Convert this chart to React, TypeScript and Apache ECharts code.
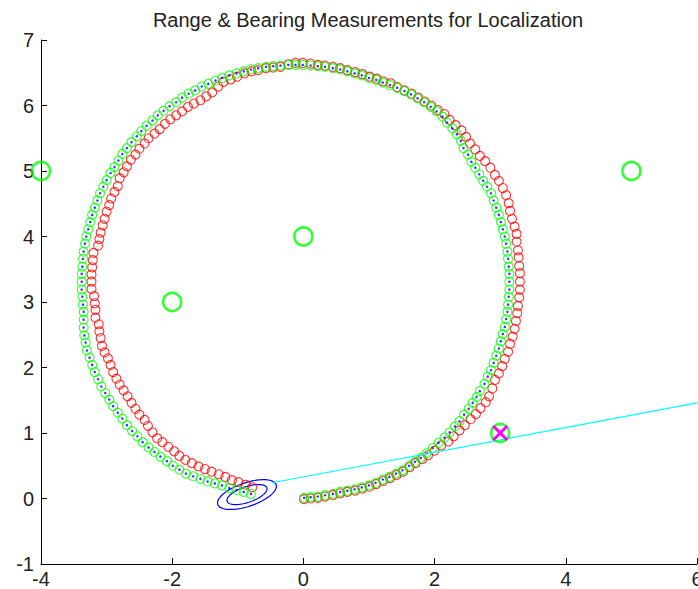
import React, { useEffect, useRef } from "react";
import * as echarts from "echarts";

// Landmark positions
const landmarkX = [-4, -2, 0, 5, 3];
const landmarkY = [5, 3, 4, 5, 1];

// Landmark currently observed
const observedLandmark: [number, number] = [3, 1];

// True robot trajectory (red)
const truePath: [number, number][] = [
  [0.01, -0.01], [0.11, 0.0], [0.22, 0.01], [0.33, 0.03], [0.45, 0.05], [0.56, 0.08], [0.67, 0.1], [0.79, 0.12],
  [0.9, 0.15], [1.01, 0.18], [1.11, 0.22], [1.22, 0.27], [1.32, 0.31], [1.42, 0.36], [1.52, 0.41], [1.62, 0.48],
  [1.71, 0.54], [1.81, 0.6], [1.9, 0.66], [2.0, 0.73], [2.1, 0.81], [2.21, 0.87], [2.29, 0.95], [2.38, 1.04],
  [2.46, 1.12], [2.55, 1.21], [2.63, 1.29], [2.7, 1.38], [2.78, 1.47], [2.83, 1.56], [2.88, 1.68], [2.92, 1.81],
  [2.98, 1.91], [3.03, 2.02], [3.07, 2.13], [3.12, 2.24], [3.15, 2.36], [3.19, 2.47], [3.22, 2.59], [3.24, 2.71],
  [3.26, 2.83], [3.27, 2.94], [3.29, 3.07], [3.3, 3.19], [3.3, 3.31], [3.3, 3.44], [3.29, 3.55], [3.28, 3.68],
  [3.27, 3.79], [3.25, 3.92], [3.25, 4.04], [3.22, 4.15], [3.18, 4.27], [3.15, 4.39], [3.13, 4.51], [3.09, 4.63],
  [3.04, 4.74], [2.98, 4.85], [2.92, 4.94], [2.85, 5.05], [2.77, 5.15], [2.69, 5.23], [2.62, 5.33], [2.54, 5.42],
  [2.48, 5.52], [2.41, 5.62], [2.32, 5.7], [2.23, 5.78], [2.15, 5.87], [2.05, 5.93], [1.95, 6.0], [1.85, 6.06],
  [1.75, 6.12], [1.65, 6.18], [1.54, 6.23], [1.43, 6.28], [1.33, 6.34], [1.22, 6.37], [1.12, 6.41], [1.01, 6.44],
  [0.9, 6.48], [0.79, 6.51], [0.67, 6.54], [0.56, 6.57], [0.45, 6.59], [0.33, 6.61], [0.22, 6.62], [0.11, 6.64],
  [-0.01, 6.65], [-0.12, 6.65], [-0.23, 6.63], [-0.35, 6.59], [-0.46, 6.58], [-0.57, 6.57], [-0.69, 6.54], [-0.79, 6.52],
  [-0.9, 6.49], [-1.01, 6.44], [-1.11, 6.4], [-1.22, 6.36], [-1.3, 6.29], [-1.39, 6.2], [-1.48, 6.14], [-1.57, 6.08],
  [-1.67, 6.03], [-1.76, 5.98], [-1.85, 5.91], [-1.94, 5.85], [-2.03, 5.79], [-2.11, 5.72], [-2.19, 5.64], [-2.27, 5.57],
  [-2.36, 5.5], [-2.42, 5.42], [-2.5, 5.34], [-2.56, 5.25], [-2.63, 5.17], [-2.69, 5.07], [-2.74, 4.98], [-2.8, 4.89],
  [-2.83, 4.77], [-2.88, 4.68], [-2.93, 4.58], [-2.96, 4.48], [-3.0, 4.38], [-3.03, 4.27], [-3.06, 4.17], [-3.09, 4.06],
  [-3.11, 3.96], [-3.13, 3.86], [-3.2, 3.75], [-3.21, 3.64], [-3.22, 3.53], [-3.23, 3.42], [-3.23, 3.31], [-3.23, 3.2],
  [-3.19, 3.09], [-3.18, 2.98], [-3.17, 2.88], [-3.17, 2.76], [-3.12, 2.66], [-3.11, 2.55], [-3.09, 2.45], [-3.07, 2.33],
  [-3.03, 2.23], [-2.98, 2.14], [-2.94, 2.04], [-2.9, 1.93], [-2.85, 1.83], [-2.8, 1.74], [-2.74, 1.65], [-2.68, 1.56],
  [-2.62, 1.46], [-2.56, 1.37], [-2.5, 1.28], [-2.42, 1.2], [-2.37, 1.11], [-2.3, 1.01], [-2.23, 0.92], [-2.15, 0.86],
  [-2.06, 0.79], [-1.97, 0.72], [-1.89, 0.65], [-1.8, 0.59], [-1.7, 0.54], [-1.6, 0.49], [-1.5, 0.45], [-1.4, 0.41],
  [-1.29, 0.37], [-1.19, 0.33], [-1.09, 0.28], [-0.99, 0.25], [-0.88, 0.21], [-0.78, 0.17],
];

// Estimated robot trajectory (green circles, blue dots)
const estPath: [number, number][] = [
  [0.01, 0.01], [0.11, 0.02], [0.22, 0.03], [0.33, 0.05], [0.45, 0.07], [0.56, 0.1], [0.67, 0.12], [0.78, 0.14],
  [0.89, 0.17], [1.0, 0.2], [1.1, 0.24], [1.21, 0.29], [1.31, 0.33], [1.41, 0.38], [1.51, 0.43], [1.61, 0.5],
  [1.7, 0.56], [1.79, 0.62], [1.88, 0.69], [1.97, 0.77], [2.06, 0.85], [2.15, 0.93], [2.23, 1.01], [2.31, 1.1],
  [2.38, 1.18], [2.45, 1.28], [2.52, 1.37], [2.58, 1.46], [2.64, 1.55], [2.69, 1.64], [2.76, 1.75], [2.81, 1.86],
  [2.86, 1.96], [2.9, 2.07], [2.94, 2.18], [2.98, 2.29], [3.01, 2.4], [3.04, 2.51], [3.07, 2.62], [3.09, 2.74],
  [3.11, 2.85], [3.12, 2.96], [3.13, 3.08], [3.14, 3.19], [3.14, 3.31], [3.14, 3.43], [3.13, 3.54], [3.12, 3.66],
  [3.11, 3.77], [3.09, 3.89], [3.07, 4.0], [3.04, 4.11], [3.01, 4.22], [2.98, 4.33], [2.94, 4.44], [2.9, 4.55],
  [2.86, 4.66], [2.8, 4.76], [2.74, 4.85], [2.68, 4.95], [2.62, 5.05], [2.56, 5.14], [2.51, 5.25], [2.44, 5.35],
  [2.4, 5.46], [2.34, 5.56], [2.27, 5.65], [2.19, 5.74], [2.12, 5.83], [2.03, 5.91], [1.94, 5.98], [1.84, 6.05],
  [1.74, 6.11], [1.64, 6.17], [1.54, 6.22], [1.43, 6.27], [1.32, 6.31], [1.21, 6.35], [1.11, 6.39], [1.0, 6.42],
  [0.89, 6.46], [0.78, 6.49], [0.67, 6.52], [0.56, 6.55], [0.45, 6.57], [0.33, 6.59], [0.22, 6.6], [0.11, 6.61],
  [-0.01, 6.62], [-0.12, 6.62], [-0.23, 6.62], [-0.35, 6.61], [-0.46, 6.6], [-0.57, 6.59], [-0.69, 6.57], [-0.8, 6.55],
  [-0.91, 6.52], [-1.02, 6.49], [-1.13, 6.46], [-1.24, 6.42], [-1.34, 6.38], [-1.45, 6.33], [-1.55, 6.29], [-1.65, 6.23],
  [-1.75, 6.18], [-1.85, 6.12], [-1.94, 6.05], [-2.04, 5.99], [-2.13, 5.92], [-2.22, 5.85], [-2.3, 5.77], [-2.39, 5.69],
  [-2.47, 5.61], [-2.54, 5.53], [-2.62, 5.44], [-2.69, 5.35], [-2.76, 5.26], [-2.82, 5.16], [-2.88, 5.06], [-2.94, 4.97],
  [-3.0, 4.86], [-3.05, 4.76], [-3.1, 4.66], [-3.14, 4.55], [-3.18, 4.44], [-3.22, 4.33], [-3.25, 4.22], [-3.28, 4.11],
  [-3.31, 4.0], [-3.33, 3.89], [-3.35, 3.77], [-3.36, 3.66], [-3.37, 3.54], [-3.38, 3.43], [-3.38, 3.31], [-3.38, 3.19],
  [-3.37, 3.08], [-3.36, 2.96], [-3.35, 2.85], [-3.35, 2.73], [-3.35, 2.61], [-3.34, 2.49], [-3.32, 2.38], [-3.3, 2.26],
  [-3.26, 2.15], [-3.22, 2.04], [-3.18, 1.93], [-3.13, 1.82], [-3.08, 1.71], [-3.02, 1.61], [-2.96, 1.51], [-2.9, 1.41],
  [-2.83, 1.31], [-2.76, 1.22], [-2.69, 1.12], [-2.61, 1.03], [-2.53, 0.95], [-2.45, 0.86], [-2.36, 0.78], [-2.27, 0.71],
  [-2.18, 0.64], [-2.08, 0.57], [-1.99, 0.5], [-1.89, 0.44], [-1.79, 0.38], [-1.68, 0.34], [-1.57, 0.3], [-1.46, 0.26],
  [-1.35, 0.23], [-1.24, 0.2], [-1.13, 0.16], [-1.02, 0.13], [-0.91, 0.1], [-0.8, 0.07],
];

// Bearing ray from the current estimate towards the observed landmark
const bearingRay: [number, number][] = [
  [-0.48, 0.24],
  [6, 1.46],
];

// Covariance ellipses of the current pose estimate: [cx, cy, semiMajor, semiMinor, angleDeg]
const covEllipses: [number, number, number, number, number][] = [
  [-0.86, 0.06, 0.47, 0.18, 18.7],
  [-0.86, 0.06, 0.32, 0.12, 18.7],
];

const xMin = -4;
const xMax = 6;
const xStep = 2;
const yMin = -1;
const yMax = 7;
const yStep = 1;

const titleText = "Range & Bearing Measurements for Localization";

const FONT = "'Liberation Sans', Arial, sans-serif";

export default function App() {
  const ref = useRef<HTMLDivElement>(null);

  useEffect(() => {
    if (!ref.current) return;
    const chart = echarts.init(ref.current, undefined, { renderer: "svg" });

    const hollow = (color: string, width: number) => ({
      color: "rgba(0,0,0,0)",
      borderColor: color,
      borderWidth: width,
    });

    const option: any = {
      animation: false,
      backgroundColor: "#ffffff",
      title: {
        text: titleText,
        left: 363,
        top: 5,
        textAlign: "center",
        textStyle: {
          fontFamily: FONT,
          fontSize: 20,
          fontWeight: "normal",
          color: "#222222",
        },
      },
      grid: { left: 41, right: 1, top: 40, bottom: 25, outerBoundsMode: "none", containLabel: false },
      xAxis: {
        type: "value",
        min: xMin,
        max: xMax,
        interval: xStep,
        axisLine: { show: true, onZero: false, lineStyle: { color: "#000", width: 1 } },
        axisTick: { show: true, inside: true, length: 6, lineStyle: { color: "#000" } },
        axisLabel: { color: "#222", fontFamily: FONT, fontSize: 20, margin: 5 },
        splitLine: { show: false },
      },
      yAxis: {
        type: "value",
        min: yMin,
        max: yMax,
        interval: yStep,
        axisLine: { show: true, onZero: false, lineStyle: { color: "#000", width: 1 } },
        axisTick: { show: true, inside: true, length: 6, lineStyle: { color: "#000" } },
        axisLabel: { color: "#222", fontFamily: FONT, fontSize: 20, margin: 7 },
        splitLine: { show: false },
      },
      series: [
        {
          type: "line",
          data: bearingRay,
          symbol: "none",
          lineStyle: { color: "#00FFFF", width: 1.2 },
          silent: true,
          clip: false,
        },
        {
          type: "scatter",
          data: truePath,
          symbol: "circle",
          symbolSize: 9,
          itemStyle: hollow("#FF0000", 1.1),
          silent: true,
        },
        {
          type: "scatter",
          data: estPath,
          symbol: "circle",
          symbolSize: 9,
          itemStyle: hollow("#00FF00", 1.1),
          silent: true,
        },
        {
          type: "scatter",
          data: estPath,
          symbol: "circle",
          symbolSize: 2.5,
          itemStyle: { color: "#0000FF" },
          silent: true,
        },
        {
          type: "custom",
          data: covEllipses,
          encode: { x: 0, y: 1 },
          silent: true,
          renderItem: (params: any, api: any) => {
            const cx = api.value(0);
            const cy = api.value(1);
            const a = api.value(2);
            const b = api.value(3);
            const phi = (api.value(4) * Math.PI) / 180;
            const pts: number[][] = [];
            for (let k = 0; k <= 90; k++) {
              const t = (2 * Math.PI * k) / 90;
              const ex = cx + a * Math.cos(t) * Math.cos(phi) - b * Math.sin(t) * Math.sin(phi);
              const ey = cy + a * Math.cos(t) * Math.sin(phi) + b * Math.sin(t) * Math.cos(phi);
              pts.push(api.coord([ex, ey]));
            }
            return {
              type: "polyline",
              shape: { points: pts },
              style: { stroke: "#0000FF", fill: "none", lineWidth: 1.2 },
            };
          },
        },
        {
          type: "scatter",
          data: landmarkX.map((x, i) => [x, landmarkY[i]]),
          symbol: "circle",
          symbolSize: 18,
          itemStyle: hollow("#00FF00", 2.6),
          silent: true,
          clip: false,
          z: 5,
        },
        {
          type: "custom",
          data: [observedLandmark],
          encode: { x: 0, y: 1 },
          silent: true,
          z: 6,
          renderItem: (params: any, api: any) => {
            const p = api.coord([api.value(0), api.value(1)]);
            const h = 7;
            const st = { stroke: "#FF00FF", lineWidth: 3 };
            return {
              type: "group",
              children: [
                { type: "line", shape: { x1: p[0] - h, y1: p[1] - h, x2: p[0] + h, y2: p[1] + h }, style: st },
                { type: "line", shape: { x1: p[0] - h, y1: p[1] + h, x2: p[0] + h, y2: p[1] - h }, style: st },
              ],
            };
          },
        },
      ],
    };

    chart.setOption(option);
    return () => chart.dispose();
  }, []);

  return (
    <div
      ref={ref}
      style={{ position: "fixed", left: 0, top: 0, width: 698, height: 589, background: "#fff" }}
    />
  );
}
